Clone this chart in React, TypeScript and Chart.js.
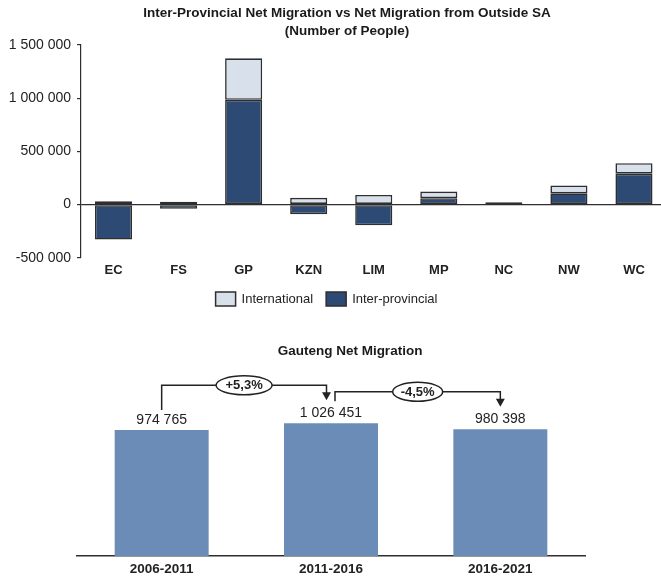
import React, { useEffect, useRef } from "react";
import { Chart, registerables } from "chart.js";

Chart.register(...registerables);

const FONT = "'Liberation Sans', Arial, Helvetica, sans-serif";

// ---- Top chart data ----
const topTitle = ["Inter-Provincial Net Migration vs Net Migration from Outside SA", "(Number of People)"];
const provinces = ["EC", "FS", "GP", "KZN", "LIM", "MP", "NC", "NW", "WC"];
const interProvincial = [-330000, -40000, 985000, -91000, -195000, 60000, 14000, 105000, 290000];
const international = [31000, 26000, 390000, 63000, 90000, 62000, 7000, 75000, 98000];
const yMin = -500000;
const yMax = 1500000;
const yStep = 500000;

// ---- Bottom chart data ----
const bottomTitle = "Gauteng Net Migration";
const periods = ["2006-2011", "2011-2016", "2016-2021"];
const gautengNet = [974765, 1026451, 980398];
const changeLabels = ["+5,3%", "-4,5%"];

const DARK = "#2c4a73";
const LIGHT = "#d8e1eb";
const EDGE = "#2e2e2e";
const GBAR = "#6b8cb7";
const TXT = "#222222";

function fmt(n: number): string {
  const s = Math.abs(Math.round(n)).toString().replace(/\B(?=(\d{3})+(?!\d))/g, " ");
  return (n < 0 ? "-" : "") + s;
}

export default function App() {
  const topRef = useRef<HTMLCanvasElement | null>(null);
  const botRef = useRef<HTMLCanvasElement | null>(null);

  useEffect(() => {
    Chart.defaults.font.family = FONT;

    const topDecor = {
      id: "topDecor",
      afterDraw(chart: any) {
        const ctx = chart.ctx;
        ctx.save();
        ctx.fillStyle = "#1a1a1a";
        ctx.textAlign = "center";
        ctx.textBaseline = "middle";
        ctx.font = `bold 13.5px ${FONT}`;
        ctx.fillText(topTitle[0], 347, 13);
        ctx.fillText(topTitle[1], 347, 31);

        // legend
        const ds = chart.data.datasets;
        const items = [ds[1], ds[0]];
        ctx.font = `13px ${FONT}`;
        const boxW = 20, boxH = 14, gap = 6, itemGap = 13;
        const widths = items.map((it: any) => boxW + gap + ctx.measureText(it.label).width);
        const total = widths.reduce((a: number, b: number) => a + b, 0) + itemGap * (items.length - 1);
        let x = 326.5 - total / 2;
        const y = 299;
        items.forEach((it: any, i: number) => {
          ctx.fillStyle = it.backgroundColor;
          ctx.fillRect(x, y - boxH / 2, boxW, boxH);
          ctx.strokeStyle = EDGE;
          ctx.lineWidth = 1.5;
          ctx.strokeRect(x, y - boxH / 2, boxW, boxH);
          ctx.fillStyle = TXT;
          ctx.textAlign = "left";
          ctx.fillText(it.label, x + boxW + gap, y + 0.5);
          x += widths[i] + itemGap;
        });
        ctx.restore();
      },
    };

    const top = new Chart(topRef.current as HTMLCanvasElement, {
      type: "bar",
      data: {
        labels: provinces,
        datasets: [
          {
            label: "Inter-provincial",
            data: interProvincial,
            backgroundColor: DARK,
            borderColor: EDGE,
            borderWidth: 1.6,
            borderSkipped: false,
          },
          {
            label: "International",
            data: international,
            backgroundColor: LIGHT,
            borderColor: EDGE,
            borderWidth: 1.6,
            borderSkipped: false,
          },
        ],
      },
      options: {
        responsive: false,
        animation: false,
        devicePixelRatio: 1,
        layout: { padding: { top: 45, right: 13.5, left: 0, bottom: 37.3 } },
        datasets: { bar: { barPercentage: 0.57, categoryPercentage: 1 } },
        plugins: {
          legend: { display: false },
          title: { display: false },
          tooltip: { enabled: false },
        },
        scales: {
          x: {
            stacked: true,
            grid: { display: false, drawTicks: false },
            border: { display: false },
            ticks: { font: { size: 13, weight: "bold" }, color: TXT, padding: 5 },
            afterFit: (s: any) => { s.height = 25; },
          },
          y: {
            stacked: true,
            min: yMin,
            max: yMax,
            ticks: {
              stepSize: yStep,
              font: { size: 14 },
              color: TXT,
              padding: 6,
              callback: (v: any) => fmt(Number(v)),
            },
            grid: {
              drawOnChartArea: true,
              drawTicks: true,
              tickLength: 4,
              tickColor: EDGE,
              lineWidth: 1.2,
              color: (c: any) => (c.tick && c.tick.value === 0 ? EDGE : "rgba(0,0,0,0)"),
            },
            border: { display: true, color: EDGE, width: 1.2 },
            afterFit: (s: any) => { s.width = 81; },
          },
        },
      },
      plugins: [topDecor],
    } as any);

    const botDecor = {
      id: "botDecor",
      afterDatasetsDraw(chart: any) {
        const ctx = chart.ctx;
        const bars = chart.getDatasetMeta(0).data;
        ctx.save();
        ctx.fillStyle = "#1a1a1a";
        ctx.textAlign = "center";
        ctx.textBaseline = "middle";
        ctx.font = `bold 13.5px ${FONT}`;
        ctx.fillText(bottomTitle, 350, 26);

        // value labels
        ctx.font = `14px ${FONT}`;
        ctx.fillStyle = TXT;
        bars.forEach((b: any, i: number) => {
          ctx.fillText(fmt(gautengNet[i]), b.x, b.y - 10);
        });

        ctx.strokeStyle = TXT;
        ctx.fillStyle = TXT;
        ctx.lineWidth = 1.5;
        const arrow = (x: number, tipY: number) => {
          ctx.beginPath();
          ctx.moveTo(x, tipY);
          ctx.lineTo(x - 4.5, tipY - 8);
          ctx.lineTo(x + 4.5, tipY - 8);
          ctx.closePath();
          ctx.fill();
        };
        const bracket = (x1: number, y1: number, yTop: number, x2: number, tip: number, label: string, rx: number) => {
          ctx.beginPath();
          ctx.moveTo(x1, y1);
          ctx.lineTo(x1, yTop);
          ctx.lineTo(x2, yTop);
          ctx.lineTo(x2, tip - 6);
          ctx.stroke();
          arrow(x2, tip);
          const cx = (x1 + x2) / 2;
          ctx.beginPath();
          ctx.ellipse(cx, yTop, rx, 9.5, 0, 0, Math.PI * 2);
          ctx.fillStyle = "#ffffff";
          ctx.fill();
          ctx.stroke();
          ctx.fillStyle = TXT;
          ctx.font = `bold 13px ${FONT}`;
          ctx.fillText(label, cx, yTop + 0.5);
        };
        bracket(bars[0].x, bars[0].y - 20, bars[1].y - 38, bars[1].x - 4.5, bars[1].y - 23, changeLabels[0], 28);
        bracket(bars[1].x + 4, bars[1].y - 22, bars[1].y - 31.5, bars[2].x, bars[2].y - 22.5, changeLabels[1], 25);
        ctx.restore();
      },
    };

    const bot = new Chart(botRef.current as HTMLCanvasElement, {
      type: "bar",
      data: {
        labels: periods,
        datasets: [
          {
            label: bottomTitle,
            data: gautengNet,
            backgroundColor: GBAR,
            borderWidth: 0,
          },
        ],
      },
      options: {
        responsive: false,
        animation: false,
        devicePixelRatio: 1,
        layout: { padding: { top: 75.9, right: 76, left: 77, bottom: 5 } },
        datasets: { bar: { barPercentage: 0.555, categoryPercentage: 1 } },
        plugins: {
          legend: { display: false },
          title: { display: false },
          tooltip: { enabled: false },
        },
        scales: {
          x: {
            grid: { display: false, drawTicks: false },
            border: { display: true, color: EDGE, width: 1.5 },
            ticks: { font: { size: 13.5, weight: "bold" }, color: TXT, padding: 5 },
            afterFit: (s: any) => { s.height = 20; },
          },
          y: {
            display: false,
            min: 0,
            max: 1200000,
          },
        },
      },
      plugins: [botDecor],
    } as any);

    return () => {
      top.destroy();
      bot.destroy();
    };
  }, []);

  return (
    <div
      style={{
        position: "absolute",
        left: 0,
        top: 0,
        width: 661,
        height: 581,
        overflow: "hidden",
        background: "#ffffff",
      }}
    >
      <canvas
        ref={topRef}
        width={680}
        height={320}
        style={{ position: "absolute", left: 0, top: 0, width: 680, height: 320 }}
      />
      <canvas
        ref={botRef}
        width={661}
        height={256}
        style={{ position: "absolute", left: 0, top: 325, width: 661, height: 256 }}
      />
    </div>
  );
}
